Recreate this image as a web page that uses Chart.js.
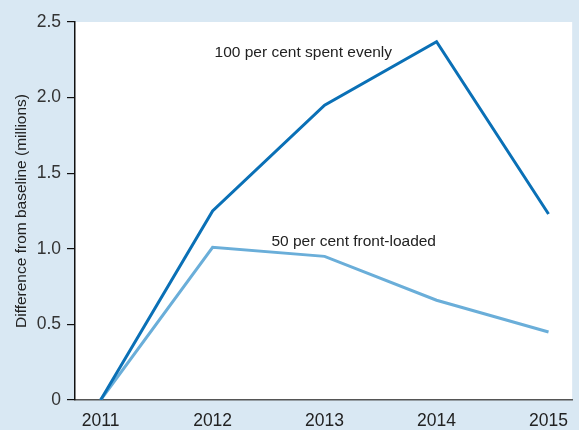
<!DOCTYPE html>
<html><head><meta charset="utf-8">
<script src="https://cdn.jsdelivr.net/npm/chart.js@4/dist/chart.umd.min.js"></script>
<style>html,body{margin:0;padding:0;background:#d9e8f3;}#wrap{width:579px;height:430px;position:relative;}</style>
</head><body><div id="wrap"><canvas id="c" width="579" height="430"></canvas></div>
<script>
const years = [2011, 2012, 2013, 2014, 2015];
const evenly = [0, 1.25, 1.95, 2.37, 1.23];
const frontLoaded = [0, 1.01, 0.95, 0.66, 0.45];
const yTicks = [0, 0.5, 1.0, 1.5, 2.0, 2.5];
const labelEvenly = {text: '100 per cent spent evenly', x: 2012.81, y: 2.30};
const labelFront = {text: '50 per cent front-loaded', x: 2013.26, y: 1.05};

const FONT = "'Liberation Sans', Arial, sans-serif";

const bgPlugin = {
  id: 'bg',
  beforeDraw(chart) {
    const {ctx, chartArea: a} = chart;
    ctx.save();
    ctx.fillStyle = '#d9e8f3';
    ctx.fillRect(0, 0, chart.width, chart.height);
    ctx.fillStyle = '#ffffff';
    ctx.fillRect(a.left, a.top, a.right - a.left, a.bottom - a.top);
    ctx.restore();
  }
};
const textPlugin = {
  id: 'txt',
  afterDatasetsDraw(chart) {
    const {ctx, scales} = chart;
    ctx.save();
    ctx.fillStyle = '#222';
    ctx.font = "15.5px " + FONT;
    ctx.textAlign = 'center';
    ctx.textBaseline = 'middle';
    [labelEvenly, labelFront].forEach(l => {
      ctx.fillText(l.text, scales.x.getPixelForValue(l.x), scales.y.getPixelForValue(l.y));
    });
    ctx.restore();
  }
};

new Chart(document.getElementById('c'), {
  type: 'line',
  data: {
    datasets: [
      {label: '100 per cent spent evenly', data: years.map((y, i) => ({x: y, y: evenly[i]})),
       borderColor: '#0a70b6', borderWidth: 3, pointRadius: 0, tension: 0, fill: false},
      {label: '50 per cent front-loaded', data: years.map((y, i) => ({x: y, y: frontLoaded[i]})),
       borderColor: '#6aaed9', borderWidth: 3, pointRadius: 0, tension: 0, fill: false}
    ]
  },
  options: {
    responsive: false,
    animation: false,
    layout: {padding: {top: 22, right: 0, left: 0, bottom: 0}},
    plugins: {legend: {display: false}, tooltip: {enabled: false}},
    scales: {
      x: {
        type: 'linear', min: 2010.771, max: 2015.211,
        afterBuildTicks: s => { s.ticks = years.map(v => ({value: v})); },
        afterFit: s => { s.height = 30; },
        grid: {drawOnChartArea: false, drawTicks: false},
        border: {color: '#555', width: 1.5},
        ticks: {color: '#222', padding: 11, font: {size: 17.5, family: FONT}, callback: v => String(v), maxRotation: 0, autoSkip: false}
      },
      y: {
        min: 0, max: 2.5,
        afterBuildTicks: s => { s.ticks = yTicks.map(v => ({value: v})); },
        afterFit: s => { s.width = 75; },
        grid: {drawOnChartArea: false, drawTicks: true, tickLength: 8, color: '#111', lineWidth: 1.2},
        border: {color: '#111', width: 1.5},
        ticks: {color: '#333', padding: 6, font: {size: 17.5, family: FONT}, callback: v => v === 0 ? '0' : v.toFixed(1)},
        title: {display: true, text: 'Difference from baseline (millions)', color: '#222', font: {size: 15.5, family: FONT}, padding: {top: 12, bottom: 0}}
      }
    }
  },
  plugins: [bgPlugin, textPlugin]
});
</script></body></html>
